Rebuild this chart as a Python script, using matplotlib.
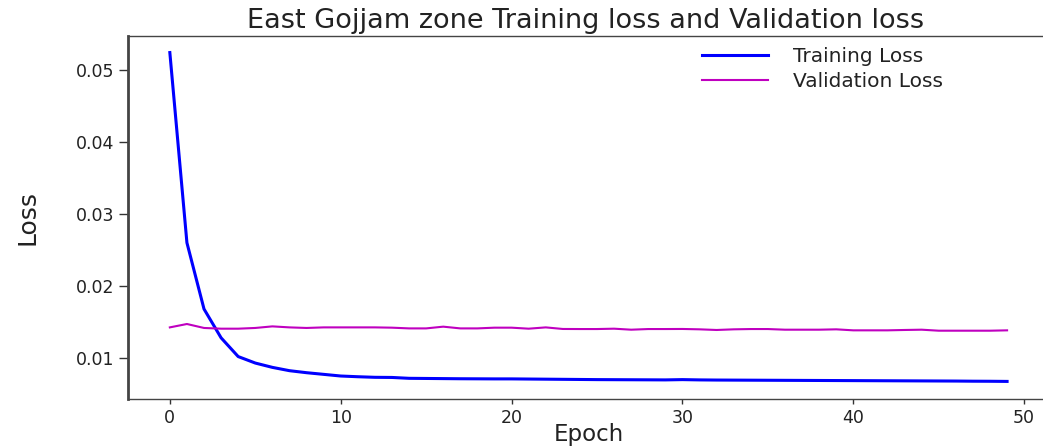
import matplotlib
matplotlib.use('Agg')
import matplotlib.pyplot as plt

# -------------------------------------------------------------
# DATA
# -------------------------------------------------------------

epochs = list(range(50))

training_loss = [
    0.0524, 0.0260, 0.0168, 0.0128, 0.0102, 0.0093, 0.0087, 0.00824, 0.00796, 0.00773,
    0.00750, 0.00740, 0.00732, 0.00730, 0.00718, 0.00716, 0.00714, 0.00712, 0.00711, 0.00710,
    0.00710, 0.00708, 0.00706, 0.00704, 0.00702, 0.00700, 0.00699, 0.00698, 0.00697, 0.00696,
    0.00700, 0.00696, 0.00694, 0.00693, 0.00692, 0.00691, 0.00690, 0.00689, 0.00688, 0.00687,
    0.00686, 0.00685, 0.00684, 0.00683, 0.00682, 0.00681, 0.00680, 0.00678, 0.00677, 0.00675,
]

validation_loss = [
    0.01425, 0.01472, 0.01417, 0.01407, 0.01407, 0.01417, 0.01439, 0.01425, 0.01417, 0.01425,
    0.01425, 0.01425, 0.01425, 0.01421, 0.01411, 0.01411, 0.01435, 0.01411, 0.01411, 0.01421,
    0.01421, 0.01407, 0.01425, 0.01403, 0.01402, 0.01402, 0.01407, 0.01393, 0.01402, 0.01402,
    0.01403, 0.01398, 0.01389, 0.01398, 0.01402, 0.01402, 0.01393, 0.01393, 0.01393, 0.01398,
    0.01384, 0.01384, 0.01384, 0.01389, 0.01393, 0.01379, 0.01379, 0.01379, 0.01379, 0.01384,
]

title = 'East Gojjam zone Training loss and Validation loss'

# -------------------------------------------------------------
# PLOT
# -------------------------------------------------------------

fig = plt.figure(figsize=(10.43, 4.46), dpi=100)
# right spine sits just past the image edge, as in the reference
ax = fig.add_axes([0.1227, 0.1054, 0.8830, 0.8139])

ax.plot(epochs, training_loss, color='b', linewidth=2.2, label='Training Loss')
ax.plot(epochs, validation_loss, color='m', linewidth=1.5, label='Validation Loss')

ax.set_xlim(-2.45, 51.45)
ax.set_ylim(0.00431, 0.0547)
ax.set_xticks([0, 10, 20, 30, 40, 50])
ax.set_yticks([0.01, 0.02, 0.03, 0.04, 0.05])

ax.set_title(title, fontsize=19.5, color='#222222', pad=6, x=0.497)
ax.set_xlabel('Epoch', fontsize=16.5, color='#222222', labelpad=-3)
ax.set_ylabel('Loss', fontsize=18, color='#222222', labelpad=26)

ax.tick_params(axis='both', labelsize=12.5, colors='#333333', labelcolor='#222222')
ax.tick_params(axis='y', length=6.5, width=1.0)
ax.tick_params(axis='x', length=3.5, width=1.0)

for side in ['top', 'bottom']:
    ax.spines[side].set_linewidth(1.0)
    ax.spines[side].set_color('#444444')
ax.spines['left'].set_linewidth(2.0)
ax.spines['left'].set_color('#444444')

ax.legend(loc='upper left', bbox_to_anchor=(702 / 1043, 1 - 47 / 446),
          bbox_transform=fig.transFigure, frameon=False, fontsize=14.5,
          handlelength=3.3, handletextpad=1.2, labelspacing=0.3,
          borderpad=0, borderaxespad=0, labelcolor='#222222')

fig.savefig('out.png', dpi=100)
